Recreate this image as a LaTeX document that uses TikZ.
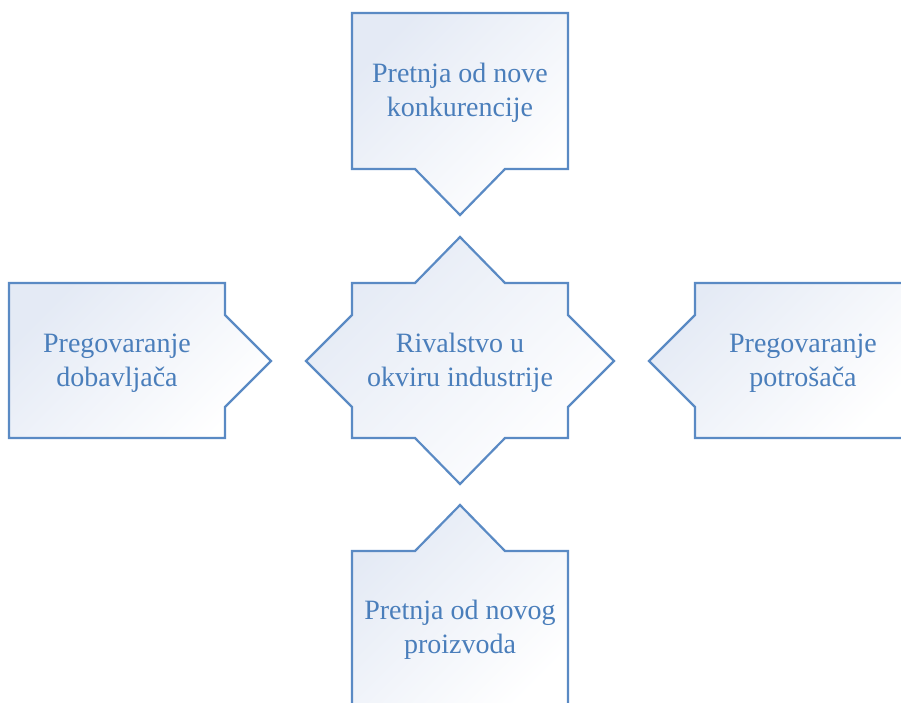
\documentclass[tikz,border=0pt]{standalone}
\usepackage{fontspec}
\setmainfont{Liberation Serif}
\definecolor{edge}{HTML}{5A8AC4}
\definecolor{ink}{HTML}{4A7EBB}
\definecolor{tint}{HTML}{E4EAF5}
\begin{document}
\begin{tikzpicture}[x=1pt,y=-1pt,
  callout/.style={draw=edge,line width=2.2pt,line join=miter,
    top color=tint,bottom color=white,shading angle=45},
  label/.style={text=ink,font=\fontsize{28}{34}\selectfont,align=center}]
\useasboundingbox (0,0) rectangle (901,702);
\clip (0,0) rectangle (901,702);
% threat of new entrants, pointing down
\path[callout] (352,13) -- (568,13) -- (568,169) -- (505,169) -- (460,215)
  -- (415,169) -- (352,169) -- cycle;
% industry rivalry, pointing in all four directions
\path[callout] (352,283) -- (415,283) -- (460,237) -- (505,283) -- (568,283)
  -- (568,315) -- (614,361) -- (568,407) -- (568,438) -- (505,438)
  -- (460,484) -- (415,438) -- (352,438) -- (352,407) -- (306,361)
  -- (352,315) -- cycle;
% supplier bargaining, pointing right
\path[callout] (9,283) -- (225,283) -- (225,315) -- (271,361) -- (225,407)
  -- (225,438) -- (9,438) -- cycle;
% buyer bargaining, pointing left
\path[callout] (695,283) -- (915,283) -- (915,438) -- (695,438) -- (695,407)
  -- (649,361) -- (695,315) -- cycle;
% threat of substitutes, pointing up
\path[callout] (352,551) -- (415,551) -- (460,505) -- (505,551) -- (568,551)
  -- (568,715) -- (352,715) -- cycle;
\node[label] (top) at (460,93) {Pretnja od nove\\konkurencije};
\node[label] (mid) at (460,363) {Rivalstvo u\\okviru industrije};
\node[label] (left) at (117,363) {Pregovaranje\\dobavljača};
\node[label] (right) at (803,363) {Pregovaranje\\potrošača};
\node[label] (bottom) at (460,630) {Pretnja od novog\\proizvoda};
\end{tikzpicture}
\end{document}
